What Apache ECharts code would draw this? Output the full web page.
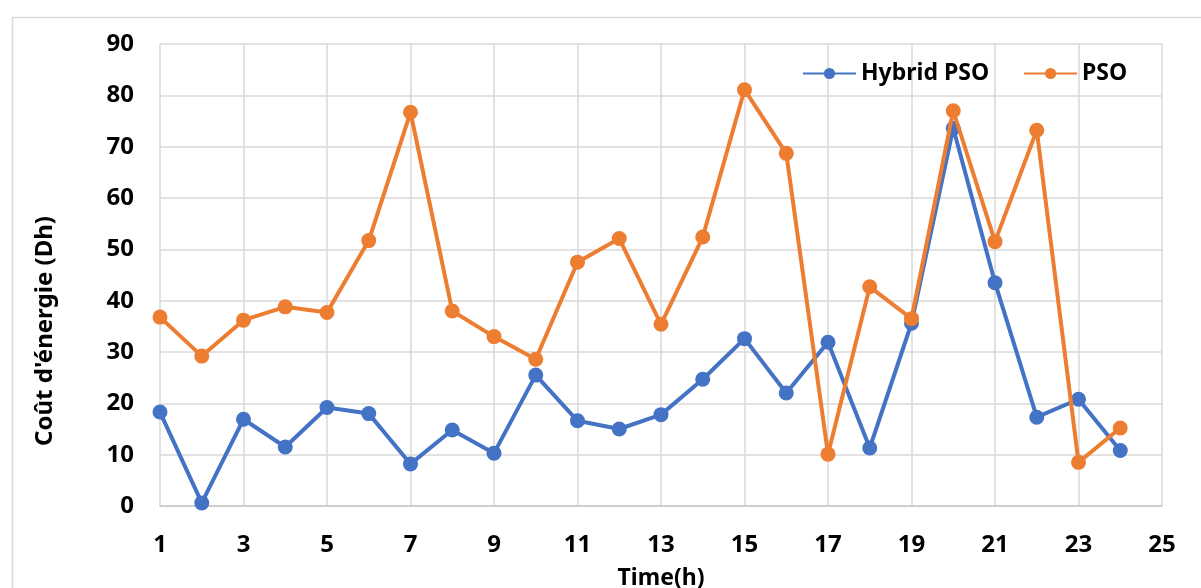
<!DOCTYPE html>
<html>
<head>
<meta charset="utf-8">
<script src="https://cdn.jsdelivr.net/npm/echarts@6/dist/echarts.min.js"></script>
<style>
html,body{margin:0;padding:0;background:#fff;}
#chart{width:1201px;height:588px;}
</style>
</head>
<body>
<div id="chart"></div>
<script>
// Data
const hours = [1,2,3,4,5,6,7,8,9,10,11,12,13,14,15,16,17,18,19,20,21,22,23,24];
const hybridPSO = [18.3,0.6,16.9,11.5,19.2,18.0,8.2,14.8,10.3,25.5,16.6,15.0,17.8,24.7,32.6,22.0,31.9,11.3,35.6,73.6,43.5,17.3,20.8,10.8];
const pso = [36.8,29.2,36.2,38.8,37.7,51.7,76.7,38.0,33.0,28.6,47.5,52.1,35.4,52.4,81.1,68.7,10.1,42.7,36.5,77.0,51.5,73.2,8.5,15.2];
const seriesNames = ['Hybrid PSO','PSO'];
const yTitle = "Coût d'énergie (Dh)";
const xTitle = 'Time(h)';

const FONT = '"Noto Sans", "Open Sans", sans-serif';
const chart = echarts.init(document.getElementById('chart'), null, {renderer:'canvas'});
const pairs = arr => hours.map((h,i)=>[h, arr[i]]);

chart.setOption({
  animation:false,
  backgroundColor:'#fff',
  textStyle:{fontFamily:FONT},
  grid:{left:160, right:39, top:44, bottom:82, containLabel:false, outerBoundsMode:'none'},
  legend:{
    top:57, left:797,
    itemWidth:53, itemHeight:14, itemGap:34,
    textStyle:{fontFamily:FONT, fontWeight:'bold', fontSize:23, color:'#000'},
    data:seriesNames
  },
  xAxis:{
    type:'value', min:1, max:25, interval:2,
    name:xTitle, nameLocation:'middle', nameGap:61,
    nameTextStyle:{fontFamily:FONT, fontWeight:'bold', fontSize:23, color:'#000'},
    axisLine:{show:true, lineStyle:{color:'#c8c8c8', width:1.5}},
    axisTick:{show:false},
    axisLabel:{fontFamily:FONT, fontWeight:'bold', fontSize:24, color:'#000', margin:27},
    splitLine:{show:true, lineStyle:{color:'#d9d9d9', width:1.5}}
  },
  yAxis:{
    type:'value', min:0, max:90, interval:10,
    axisLine:{show:false},
    axisTick:{show:false},
    axisLabel:{fontFamily:FONT, fontWeight:'bold', fontSize:24, color:'#000', margin:26},
    splitLine:{show:true, lineStyle:{color:'#d9d9d9', width:1.5}}
  },
  graphic:[
    {type:'rect', left:10, top:15, shape:{width:1200, height:600}, style:{fill:'none', stroke:'#d9d9d9', lineWidth:1.5}, silent:true, z:-1},
    {type:'text', x:45, y:331, rotation:Math.PI/2,
     style:{text:yTitle, fontFamily:FONT, fontWeight:'bold', fontSize:24, fill:'#000', align:'center', verticalAlign:'middle'}}
  ],
  series:[
    {name:seriesNames[0], type:'line', data:pairs(hybridPSO), symbol:'circle', symbolSize:15,
     itemStyle:{color:'#4472C4'}, lineStyle:{color:'#4472C4', width:4}, z:2},
    {name:seriesNames[1], type:'line', data:pairs(pso), symbol:'circle', symbolSize:15,
     itemStyle:{color:'#ED7D31'}, lineStyle:{color:'#ED7D31', width:4}, z:3}
  ]
});
</script>
</body>
</html>
